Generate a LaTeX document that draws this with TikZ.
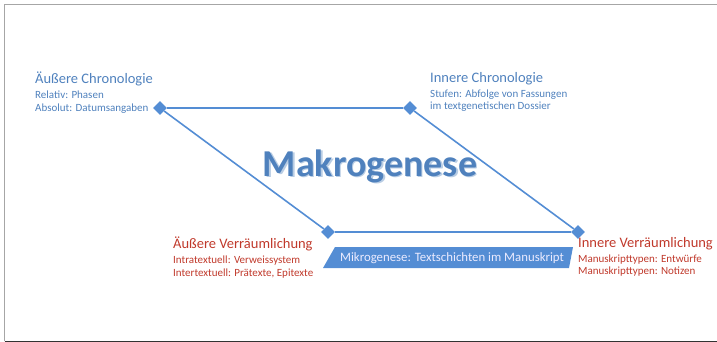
\documentclass[tikz,border=0pt]{standalone}
\usepackage{fontspec}
\setmainfont{Carlito}
\usetikzlibrary{shapes.geometric}
\definecolor{chronoblue}{RGB}{79,129,189}
\definecolor{lineblue}{RGB}{84,141,212}
\definecolor{raumred}{RGB}{192,57,43}
\definecolor{boxblue}{RGB}{84,141,212}
\newcommand{\headline}[1]{{\fontsize{14.5}{16}\selectfont #1}}
\begin{document}
\begin{tikzpicture}[x=1pt, y=-1pt,
    every node/.style = {inner sep=0pt, align=left, anchor=north west},
    corner/.style = {shape=diamond, fill=lineblue, minimum size=14pt, anchor=center},
    edge/.style = {draw=lineblue, line width=1.6pt},
    chrono/.style = {text=chronoblue, font=\fontsize{11}{12.5}\selectfont},
    raum/.style = {text=raumred, font=\fontsize{11}{12.5}\selectfont}]
  \useasboundingbox (0,0) rectangle (717,342);
  % frame
  \draw[gray!70, line width=1pt] (717,4.5) -- (4.5,4.5) -- (4.5,341);
  \draw[black!80, line width=1pt] (4.5,341) -- (717,341);

  % corners of the parallelogram
  \node[corner] (ac) at (160,108) {};
  \node[corner] (ic) at (410,108) {};
  \node[corner] (av) at (328,232) {};
  \node[corner] (iv) at (578,232) {};
  \draw[edge] (ac) -- (ic) -- (iv) -- (av) -- (ac);

  % title
  \node[anchor=center, text=chronoblue!40, font=\fontsize{38}{42}\selectfont\bfseries] (makroshadow) at (371.5,167.5) {Makrogenese};
  \node[anchor=center, text=chronoblue, font=\fontsize{38}{42}\selectfont\bfseries] (makro) at (370,166) {Makrogenese};

  % labels
  \node[chrono] (acText) at (35,72) {\headline{Äußere Chronologie}\\[2.5pt] Relativ: Phasen\\ Absolut: Datumsangaben};
  \node[chrono] (icText) at (430,72) {\headline{Innere Chronologie}\\[2.5pt] Stufen: Abfolge von Fassungen\\ im textgenetischen Dossier};
  \node[raum] (avText) at (173,237) {\headline{Äußere Verräumlichung}\\[2.5pt] Intratextuell: Verweissystem\\ Intertextuell: Prätexte, Epitexte};
  \node[raum] (ivText) at (578,237) {\headline{Innere Verräumlichung}\\[2.5pt] Manuskripttypen: Entwürfe\\ Manuskripttypen: Notizen};

  % micro level
  \fill[boxblue] (335,247) -- (573,247) -- (569,268) -- (323,268) -- cycle;
  \node[anchor=center, text=white!92!blue, font=\fontsize{12.8}{14}\selectfont] (mikro) at (452,258) {Mikrogenese: Textschichten im Manuskript};
\end{tikzpicture}
\end{document}
